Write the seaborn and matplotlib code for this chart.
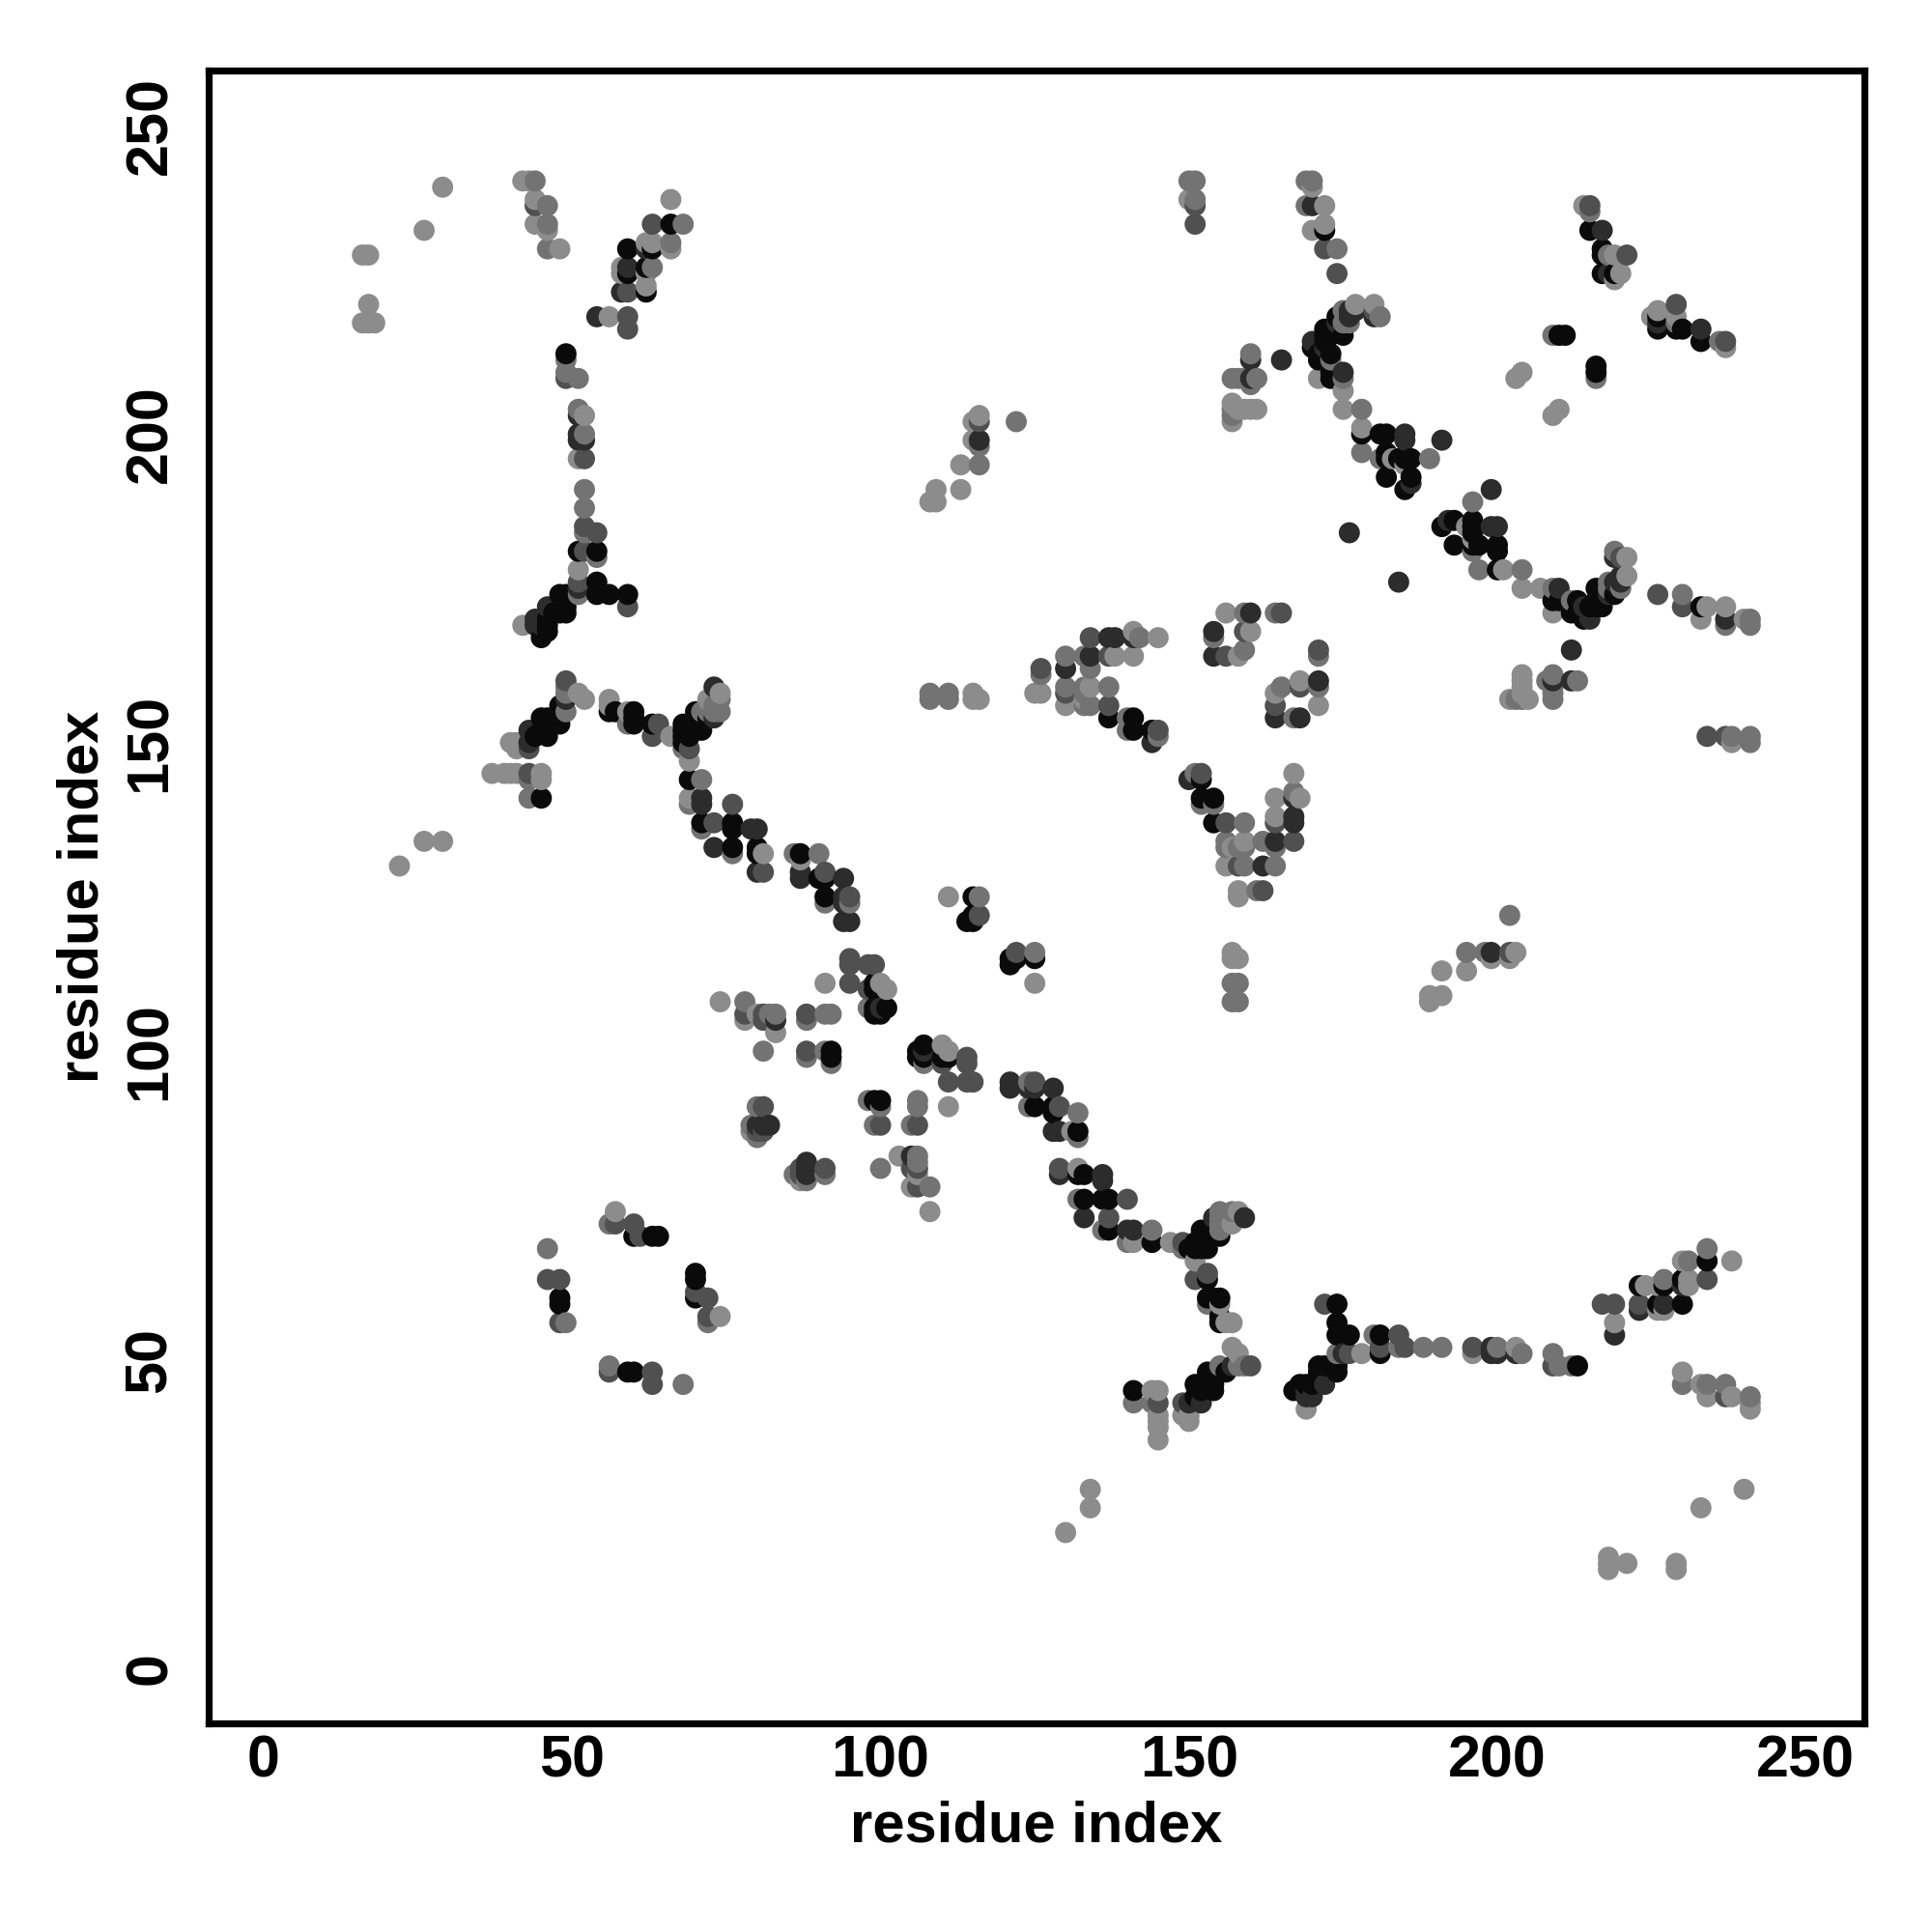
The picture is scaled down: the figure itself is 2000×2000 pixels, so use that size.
import matplotlib
matplotlib.use("Agg")
import matplotlib.pyplot as plt
import pandas as pd
import seaborn as sns

sns.set_theme(style="white")
plt.rcParams['font.family'] = ['Liberation Sans', 'DejaVu Sans']

# contacts (residue i, residue j) by strength class; the map is symmetric
lightest = [(29,240),(26,233),(16,229),(17,229),(17,221),(16,218),(17,218),(18,218),(42,241),(43,241),(44,238),(44,234),(46,233),(48,230),
 (63,231),(62,231),(66,238),(66,230),(62,226),(62,224),(58,227),(58,226),(56,219),(52,203),(51,196),(51,178),(42,169),(51,158),(52,157),
 (40,150),(41,150),(41,149),(37,145),(39,145),(40,145),(41,145),(45,145),(45,144),(56,157),(56,156),(59,155),(66,151),(69,147),(74,158),(72,157),
 (69,141),(69,140),(81,132),(87,131),(74,108),(78,105),(80,106),(82,106),(83,103),(91,111),(100,111),(101,110),(81,100),(111,125),(125,111),
 (110,101),(111,100),(124,95),(124,91),(131,87),(132,81),(132,76),(136,71),(141,69),(147,69),(151,66),(158,74),(157,72),(156,56),(157,56),
 (157,52),(158,51),(79,87),(80,86),(82,88),(105,88),(111,91),(103,83),(106,83),(105,78),(108,74),(87,79),(74,57),(57,74),(57,72),
 (150,238),(170,240),(169,237),(172,237),(170,233),(172,234),(177,221),(180,221),(181,219),(171,209),(175,207),(175,204),(178,201),(183,196),(185,195),
 (196,189),(195,185),(201,178),(204,175),(207,175),(116,203),(115,202),(115,199),(113,195),(113,191),(109,191),(109,189),(108,189),(157,205),(158,204),
 (160,204),(161,204),(157,202),(115,158),(115,157),(116,157),(125,158),(126,158),(130,156),(133,159),(134,159),(133,158),(133,157),(137,159),(138,164),
 (141,164),(141,168),(145,167),(140,154),(145,151),(156,171),(160,168),(158,164),(168,160),(164,158),(167,154),(171,156),(167,145),(167,142),(168,141),
 (164,141),(164,138),(159,134),(157,133),(156,130),(158,126),(158,125),(157,116),(158,115),(157,115),(158,111),(214,237),(220,226),(219,225),(226,220),
 (225,219),(229,219),(237,214),(209,216),(204,210),(203,209),(210,204),(209,203),(209,171),(212,173),(221,177),(221,180),(230,174),(234,172),(233,170),
 (237,172),(240,170),(204,161),(204,160),(204,159),(202,157),(205,157),(208,160),(238,150),(241,151),(26,134),(29,134),(22,130),(219,229),(161,126)]
medium = [(46,234),(44,241),(46,237),(46,230),(68,234),(66,231),(63,227),(49,212),(49,210),(51,209),(51,204),(52,200),(52,191),(52,188),(52,184),(54,180),(51,174),
 (49,159),(49,158),(49,155),(43,144),(59,153),(64,153),(63,151),(68,149),(69,149),(71,144),(73,155),(74,155),(74,157),(72,155),(71,136),(76,132),(86,132),(90,132),
 (87,129),(91,124),(95,124),(98,114),(91,106),(92,106),(88,105),(88,99),(78,108),(83,106),(98,107),(92,98),(116,125),(125,116),(107,98),(121,95),(121,94),(125,95),
 (132,90),(132,86),(140,69),(144,71),(155,74),(157,74),(156,73),(155,71),(154,60),(153,59),(80,91),(79,88),(100,91),(99,88),(106,92),(106,91),(106,82),(100,81),(108,78),(86,80),(91,80),
 (70,61),(72,56),(46,68),(56,72),(150,241),(151,241),(151,238),(169,241),(170,241),(174,230),(175,220),(175,218),(174,217),(173,212),(175,209),(178,204),(178,197),(181,196),
 (189,196),(196,181),(197,178),(204,178),(122,202),(116,198),(116,195),(160,213),(157,209),(158,209),(161,209),(160,208),(157,204),(157,203),(108,158),(108,157),(111,158),(111,157),
 (126,161),(130,164),(130,159),(133,164),(134,162),(134,156),(137,167),(142,167),(154,167),(159,171),(164,171),(159,168),(159,165),(171,164),(171,159),(165,159),(152,140),(154,140),
 (159,137),(167,141),(162,134),(164,133),(156,134),(156,133),(159,133),(158,133),(158,130),(159,130),(164,130),(162,126),(157,111),(157,108),(158,108),(215,236),(218,229),(216,209),
 (236,215),(218,176),(219,181),(220,175),(209,175),(237,169),(241,170),(241,169),(203,157),(204,157),(209,161),(209,159),(209,157),(213,160),(237,151),(238,151),(241,150),(151,145),(43,141),(49,56)]
dim = [(44,237),(59,223),(63,234),(59,219),(59,217),(49,209),(52,196),(52,185),(52,181),(54,184),(59,172),(51,176),(49,160),(43,149),(43,145),(60,153),(73,137),(76,140),
 (81,129),(91,129),(95,125),(95,115),(95,114),(95,111),(99,114),(78,106),(81,106),(83,105),(88,106),(88,100),(122,116),(114,99),(114,98),(111,95),(114,95),(115,95),(125,94),(129,91),
 (129,81),(136,79),(137,73),(140,76),(141,71),(149,69),(159,73),(151,63),(153,64),(153,63),(81,91),(98,110),(100,88),(106,88),(105,81),(106,81),(106,78),(87,81),(91,81),(87,80),(72,60),(72,57),
 (48,63),(46,63),(48,56),(60,72),(60,70),(61,70),(64,70),(151,237),(151,234),(172,230),(174,226),(176,219),(134,164),(160,212),(116,202),(126,162),(130,162),(130,158),(134,167),(137,164),
 (137,156),(144,150),(145,152),(165,171),(156,164),(171,165),(171,160),(168,159),(164,156),(152,145),(154,141),(156,137),(167,134),(215,237),(229,221),(226,217),(237,215),(221,229),(226,174),
 (230,172),(220,180),(209,160),(234,151),(212,165),(116,122),(141,152)]
dark = [(54,219),(58,223),(62,230),(59,227),(51,203),(51,200),(51,199),(52,199),(51,175),(49,157),(43,152),(43,150),(44,170),(44,169),(57,155),(68,153),(72,154),(73,154),(73,159),(71,141),
 (71,140),(79,136),(80,136),(73,133),(80,129),(87,129),(87,128),(94,128),(94,125),(94,124),(94,121),(95,121),(91,125),(121,115),(122,115),(107,100),(128,94),(128,90),(128,87),(129,87),
 (136,80),(133,73),(81,88),(80,88),(88,82),(88,81),(105,83),(46,172),(155,56),(70,63),(170,237),(172,233),(177,220),(180,219),(176,220),(174,218),(173,216),(170,215),(172,214),(171,213),
 (173,209),(175,210),(185,200),(185,199),(191,199),(182,193),(186,192),(199,191),(192,186),(199,185),(200,185),(176,184),(184,176),(116,199),(160,209),(165,212),(138,167),(141,167),(154,168),
 (154,164),(160,171),(164,154),(168,154),(167,138),(167,137),(164,134),(162,130),(217,233),(226,218),(229,217),(233,217),(216,210),(210,175),(210,173),(212,171),(214,170),(215,170),(219,176),
 (220,176),(219,180),(237,170),(212,160),(150,144),(45,169)]
black = [(59,230),(63,230),(66,234),(62,227),(59,226),(62,223),(49,213),(51,181),(54,181),(54,176),(54,174),(56,174),(59,174),(48,174),(49,174),(48,171),(49,171),(49,172),(46,170),(47,171),
 (46,169),(46,168),(45,167),(48,156),(45,154),(46,154),(47,154),(48,153),(46,151),(45,152),(44,151),(45,141),(56,155),(60,155),(60,154),(63,153),(68,152),(68,151),(69,151),(69,144),(70,155),
 (70,153),(71,152),(71,137),(76,137),(76,136),(76,133),(80,133),(80,132),(87,132),(90,128),(99,111),(99,110),(99,107),(101,107),(100,106),(99,106),(99,92),(100,92),(92,100),(92,99),(115,125),
 (115,122),(114,121),(115,121),(121,114),(125,115),(106,100),(107,101),(106,99),(110,99),(111,99),(125,91),(128,91),(132,87),(132,80),(133,80),(133,76),(136,76),(137,76),(137,71),(144,69),
 (150,68),(151,69),(152,68),(153,68),(152,71),(153,70),(154,70),(154,72),(153,60),(155,60),(155,57),(70,64),(70,60),(48,60),(48,59),(63,70),(174,219),(172,217),(175,216),(172,216),(170,214),
 (173,213),(171,212),(173,210),(178,200),(181,200),(182,200),(182,197),(182,196),(185,196),(186,196),(186,193),(185,191),(191,185),(193,186),(196,186),(196,185),(196,184),(193,182),(197,182),
 (196,182),(200,182),(200,181),(200,178),(137,154),(141,154),(144,152),(215,233),(217,230),(217,229),(217,226),(219,226),(230,217),(233,215),(210,216),(211,216),(209,173),(213,173),(213,171),
 (215,172),(216,173),(217,172),(216,175),(217,174),(219,174),(233,172),(152,144),(152,141),(154,137)]

tick_values = [0, 50, 100, 150, 200, 250]
axis_label = "residue index"

classes = [(lightest, "#8c8c8c"), (medium, "#737373"), (dim, "#505050"), (dark, "#2c2c2c"), (black, "#0a0a0a")]
colour_of = {}
for pairs, colour in classes:
    for a, b in pairs:
        colour_of[(a, b)] = colour
        colour_of[(b, a)] = colour
rows = [(a, b, c) for (a, b), c in colour_of.items()]
df = pd.DataFrame(rows, columns=["x", "y", "shade"]).sort_values(["x", "y"])

fig = plt.figure(figsize=(10, 10), dpi=200)
ax = fig.add_axes([0.108, 0.108, 0.857, 0.8555])
sns.scatterplot(data=df, x="x", y="y", hue="shade",
                palette={c: c for _, c in classes}, s=62, linewidth=0,
                legend=False, ax=ax)
ax.set_xlim(-8.93, 259.5)
ax.set_ylim(-8.92, 258.9)
ax.set_xticks(tick_values)
ax.set_yticks(tick_values)
ax.tick_params(axis="x", length=3.2, width=1.0, color="black", labelsize=22, pad=1)
ax.tick_params(axis="y", length=3.2, width=1.0, color="black", labelsize=22, pad=8)
for lab in ax.get_xticklabels() + ax.get_yticklabels():
    lab.set_fontweight("bold")
    lab.set_color("black")
for lab in ax.get_yticklabels():
    lab.set_rotation(90)
    lab.set_va("center")
ax.set_xlabel(axis_label, fontsize=21.5, fontweight="bold", color="black", labelpad=4)
ax.set_ylabel(axis_label, fontsize=21.5, fontweight="bold", color="black", labelpad=5)
for s in ax.spines.values():
    s.set_visible(True)
    s.set_linewidth(2.6)
    s.set_color("black")
fig.savefig("out.png", dpi=200, facecolor="white")
